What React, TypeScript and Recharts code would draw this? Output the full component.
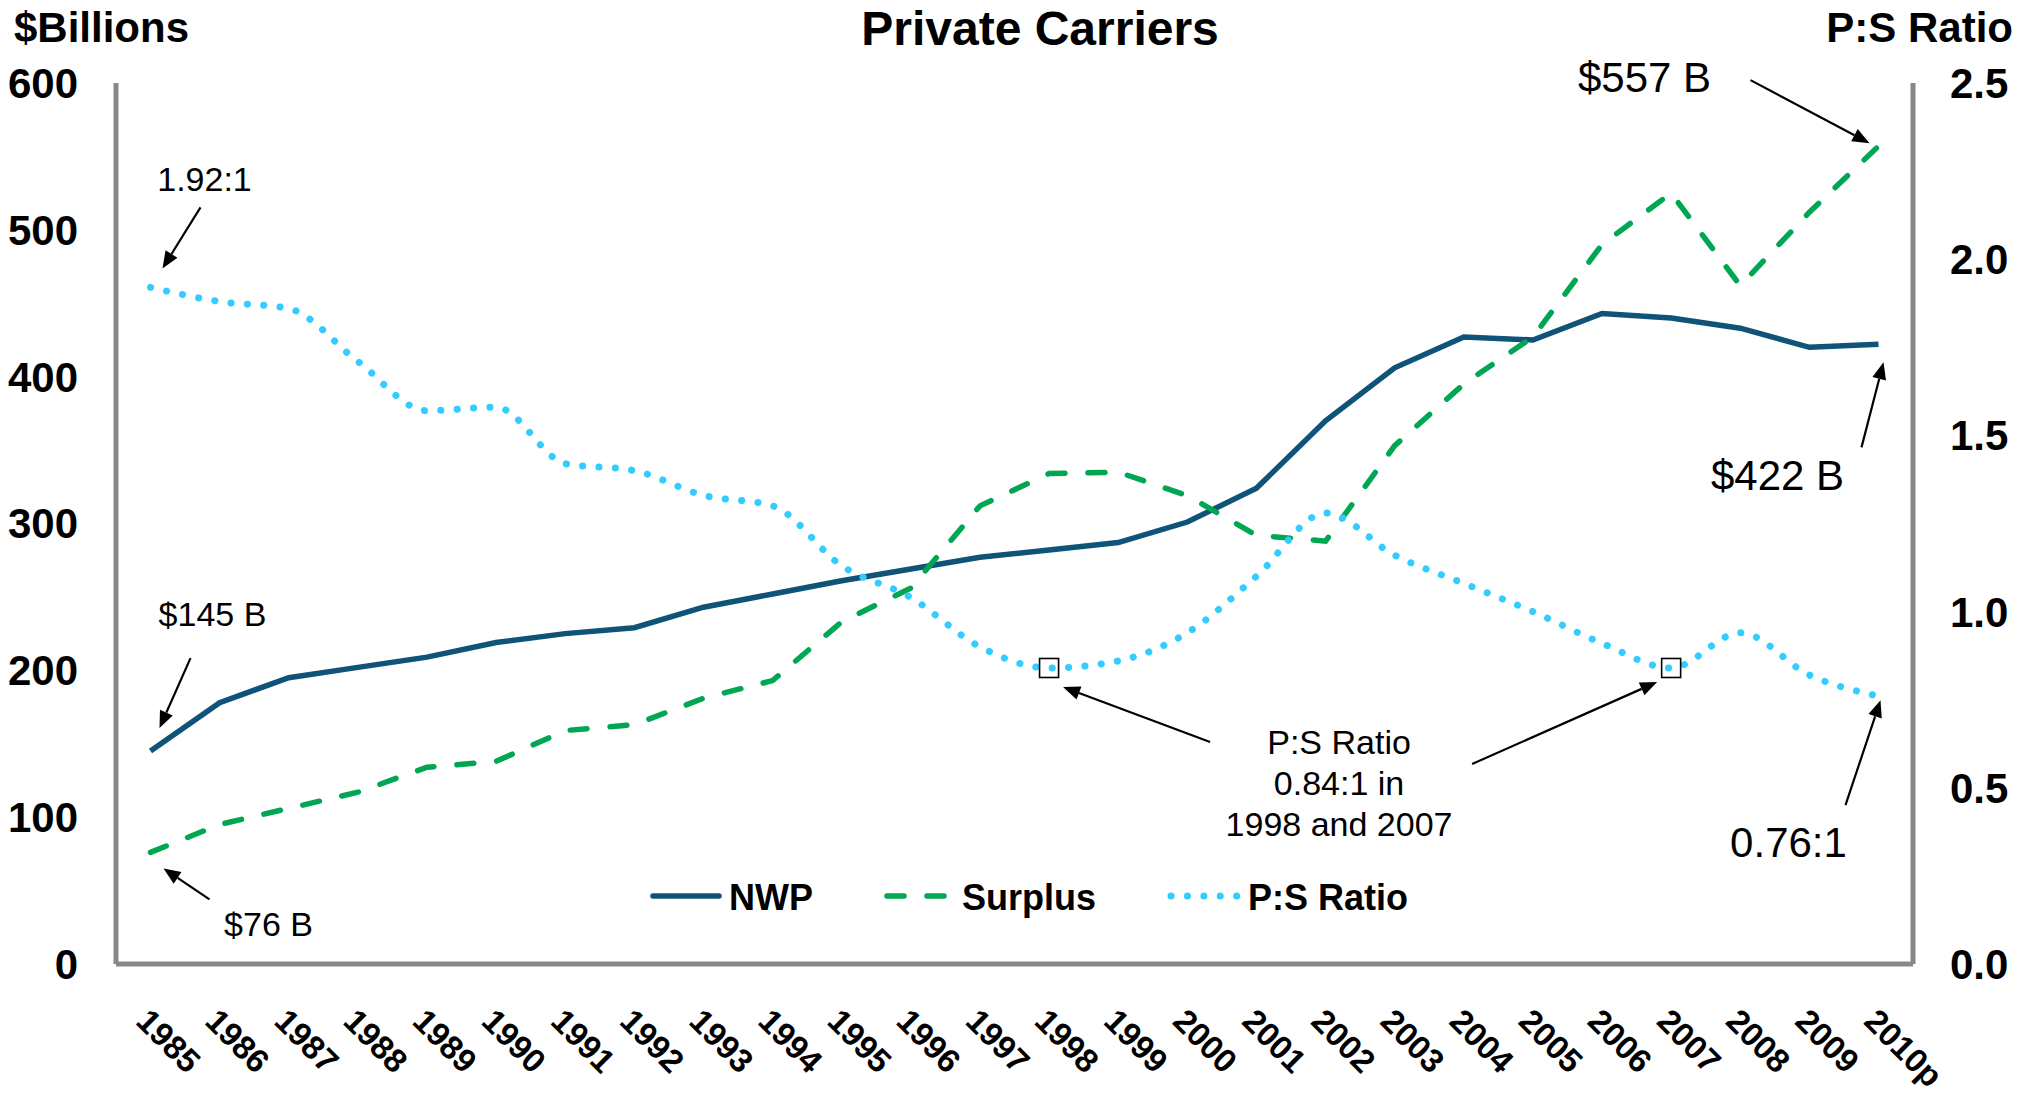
import React from "react";
import {
  ComposedChart,
  Line,
  XAxis,
  YAxis,
  Legend,
  ReferenceDot,
} from "recharts";

const YEARS = [
  "1985", "1986", "1987", "1988", "1989", "1990", "1991", "1992", "1993",
  "1994", "1995", "1996", "1997", "1998", "1999", "2000", "2001", "2002",
  "2003", "2004", "2005", "2006", "2007", "2008", "2009", "2010p",
];
// net written premiums, $ billions
const NWP = [
  145, 178, 195, 202, 209, 219, 225, 229, 243, 252, 261, 269, 277, 282, 287,
  301, 324, 370, 406, 427, 425, 443, 440, 433, 420, 422,
];
// policyholders' surplus, $ billions
const SURPLUS = [
  76, 95, 106, 117, 134, 138, 159, 163, 181, 193, 233, 256, 312, 334, 335,
  319, 292, 288, 353, 395, 427, 490, 525, 462, 512, 557,
];
// premium to surplus ratio
const PS_RATIO = [
  1.92, 1.88, 1.86, 1.71, 1.57, 1.58, 1.42, 1.4, 1.33, 1.3, 1.13, 1.04, 0.9,
  0.84, 0.86, 0.94, 1.1, 1.28, 1.16, 1.08, 1.0, 0.91, 0.84, 0.94, 0.82, 0.76,
];
const DOLLAR_TICKS = [0, 100, 200, 300, 400, 500, 600];
const RATIO_TICKS = [0, 0.5, 1, 1.5, 2, 2.5];

const FONT = '"Liberation Sans", Arial, Helvetica, sans-serif';
const NAVY = "#0F5378";
const GREEN = "#00A651";
const SKY = "#33CCFF";
const AXIS = "#888888";
const SURPLUS_DASH = "17 23";
const RATIO_DOTS = "0.1 16.3";

const chartData = YEARS.map((year, i) => ({
  year,
  nwp: NWP[i],
  surplus: SURPLUS[i],
  ratio: PS_RATIO[i],
}));

// callouts, anchored on a data point; offsets in px from that point
const NOTES = [
  { year: "1985", value: 1.92, axis: "ratio", lines: ["1.92:1"], size: 34, text: [54, -96], tail: [50, -80], tip: [12, -19] },
  { year: "1985", value: 145, axis: "usd", lines: ["$145 B"], size: 34, text: [62, -125], tail: [40, -93], tip: [9, -23] },
  { year: "1985", value: 76, axis: "usd", lines: ["$76 B"], size: 34, text: [118, 84], tail: [59, 47], tip: [13, 16] },
  { year: "2010p", value: 557, axis: "usd", lines: ["$557 B"], size: 42, text: [-234, -54], tail: [-128, -66], tip: [-9, -3] },
  { year: "2010p", value: 422, axis: "usd", lines: ["$422 B"], size: 42, text: [-101, 146], tail: [-17, 103], tip: [5, 18] },
  { year: "2010p", value: 0.76, axis: "ratio", lines: ["0.76:1"], size: 42, text: [-90, 161], tail: [-33, 109], tip: [2, 4] },
  { year: "1998", value: 0.84, axis: "ratio", box: true, lines: ["P:S Ratio", "0.84:1 in", "1998 and 2007"], size: 34, text: [290, 86], tail: [161, 74], tip: [14, 19] },
  { year: "2007", value: 0.84, axis: "ratio", box: true, lines: [], size: 34, text: [0, 0], tail: [-199, 96], tip: [-14, 14] },
];

function Arrow({ x1, y1, x2, y2 }: { x1: number; y1: number; x2: number; y2: number }) {
  const a = Math.atan2(y2 - y1, x2 - x1);
  const len = 17;
  const w = 7;
  const bx = x2 - len * Math.cos(a);
  const by = y2 - len * Math.sin(a);
  const pts = [
    `${x2},${y2}`,
    `${bx + w * Math.sin(a)},${by - w * Math.cos(a)}`,
    `${bx - w * Math.sin(a)},${by + w * Math.cos(a)}`,
  ].join(" ");
  return (
    <g>
      <line x1={x1} y1={y1} x2={bx} y2={by} stroke="#000" strokeWidth={2.2} />
      <polygon points={pts} fill="#000" />
    </g>
  );
}

const noteShape = (note: (typeof NOTES)[number]) => (props: any) => {
  const { cx, cy } = props;
  if (cx == null || cy == null) return <g />;
  return (
    <g>
      {note.box && (
        <rect x={cx - 9.5} y={cy - 9.5} width={19} height={19} fill="none" stroke="#000" strokeWidth={1.6} />
      )}
      <Arrow x1={cx + note.tail[0]} y1={cy + note.tail[1]} x2={cx + note.tip[0]} y2={cy + note.tip[1]} />
      {note.lines.map((t, i) => (
        <text
          key={t}
          x={cx + note.text[0]}
          y={cy + note.text[1] + i * 41}
          textAnchor="middle"
          fontSize={note.size}
          fontFamily={FONT}
          fill="#000"
        >
          {t}
        </text>
      ))}
    </g>
  );
};

function YearTick({ x, y, payload }: any) {
  const tx = x - 16;
  const ty = y + 59;
  return (
    <text
      x={tx}
      y={ty}
      transform={`rotate(45 ${tx} ${ty})`}
      fontSize={33}
      fontWeight={700}
      fontFamily={FONT}
      fill="#000"
    >
      {payload.value}
    </text>
  );
}

function LegendBox() {
  const label = { fontSize: 36, fontWeight: 700, fontFamily: FONT, fill: "#000" };
  return (
    <svg width={800} height={60} style={{ display: "block" }}>
      <line x1={13} y1={30} x2={79} y2={30} stroke={NAVY} strokeWidth={5.5} strokeLinecap="round" />
      <text x={89} y={44} {...label}>NWP</text>
      <line x1={247} y1={30} x2={304} y2={30} stroke={GREEN} strokeWidth={5.5} strokeDasharray={SURPLUS_DASH} strokeLinecap="round" />
      <text x={322} y={44} {...label}>Surplus</text>
      <line x1={531} y1={30} x2={598} y2={30} stroke={SKY} strokeWidth={7} strokeDasharray={RATIO_DOTS} strokeLinecap="round" />
      <text x={608} y={44} {...label}>P:S Ratio</text>
    </svg>
  );
}

export default function App() {
  const tickStyle = { fontSize: 42, fontWeight: 700, fill: "#000", fontFamily: FONT };
  return (
    <div style={{ position: "relative", width: 2033, height: 1094, background: "#fff", fontFamily: FONT }}>
      <style>{"body{margin:0;background:#fff}"}</style>
      <ComposedChart
        width={2033}
        height={1094}
        data={chartData}
        margin={{ top: 83, right: 40, bottom: 30, left: 36 }}
      >
        <XAxis
          dataKey="year"
          height={100}
          interval={0}
          padding={{ left: 34.5, right: 34.5 }}
          tickLine={false}
          tickSize={0}
          tickMargin={0}
          axisLine={{ stroke: AXIS, strokeWidth: 5 }}
          tick={(p: any) => <YearTick {...p} />}
        />
        <YAxis
          yAxisId="usd"
          width={80}
          domain={[0, 600]}
          ticks={DOLLAR_TICKS}
          interval={0}
          tickLine={false}
          tickSize={0}
          tickMargin={38}
          axisLine={{ stroke: AXIS, strokeWidth: 5 }}
          tick={tickStyle}
        />
        <YAxis
          yAxisId="ratio"
          orientation="right"
          width={80}
          domain={[0, 2.5]}
          ticks={RATIO_TICKS}
          interval={0}
          tickLine={false}
          tickSize={0}
          tickMargin={37}
          axisLine={{ stroke: AXIS, strokeWidth: 5 }}
          tick={tickStyle}
          tickFormatter={(v: number) => v.toFixed(1)}
        />
        <Legend
          layout="horizontal"
          verticalAlign="middle"
          align="center"
          wrapperStyle={{ left: 640, top: 866, width: 800, height: 60 }}
          content={() => <LegendBox />}
        />
        <Line
          yAxisId="usd"
          dataKey="nwp"
          name="NWP"
          type="linear"
          stroke={NAVY}
          strokeWidth={5.5}
          dot={false}
          activeDot={false}
          isAnimationActive={false}
        />
        <Line
          yAxisId="usd"
          dataKey="surplus"
          name="Surplus"
          type="linear"
          stroke={GREEN}
          strokeWidth={5.5}
          strokeDasharray={SURPLUS_DASH}
          strokeLinecap="round"
          dot={false}
          activeDot={false}
          isAnimationActive={false}
        />
        <Line
          yAxisId="ratio"
          dataKey="ratio"
          name="P:S Ratio"
          type="monotone"
          stroke={SKY}
          strokeWidth={7}
          strokeDasharray={RATIO_DOTS}
          strokeLinecap="round"
          dot={false}
          activeDot={false}
          isAnimationActive={false}
        />
        {NOTES.map((n, i) => (
          <ReferenceDot
            key={i}
            yAxisId={n.axis}
            x={n.year}
            y={n.value}
            r={0}
            ifOverflow="visible"
            shape={noteShape(n)}
          />
        ))}
      </ComposedChart>
      <svg
        width={2033}
        height={100}
        style={{ position: "absolute", left: 0, top: 0, pointerEvents: "none" }}
      >
        <text x={1040} y={45} textAnchor="middle" fontSize={48} fontWeight={700} fontFamily={FONT} fill="#000">
          Private Carriers
        </text>
        <text x={14} y={42} fontSize={42} fontWeight={700} fontFamily={FONT} fill="#000">
          $Billions
        </text>
        <text x={2013} y={42} textAnchor="end" fontSize={42} fontWeight={700} fontFamily={FONT} fill="#000">
          P:S Ratio
        </text>
      </svg>
    </div>
  );
}
